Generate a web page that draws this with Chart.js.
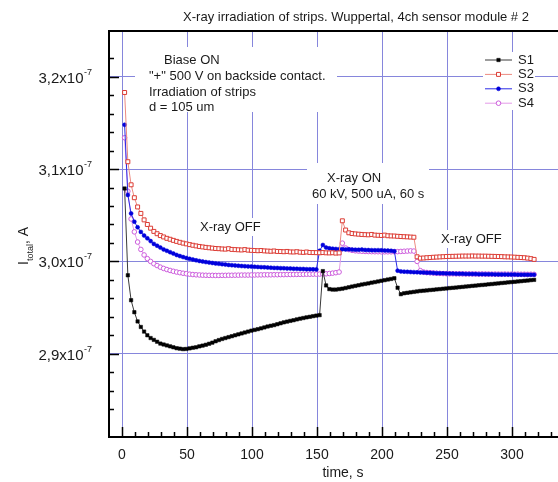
<!DOCTYPE html>
<html>
<head>
<meta charset="utf-8">
<script src="https://cdn.jsdelivr.net/npm/chart.js@4/dist/chart.umd.min.js"></script>
<style>
html,body{margin:0;padding:0;background:#fff;overflow:hidden;}
canvas{display:block;}
</style>
</head>
<body>
<canvas id="grafico" width="600" height="482"></canvas>
<script>
// time of each reading, s
const time=[
 2,4.5,7,9.5,12,14.5,17,19.5,22,24.5,
 27,29.5,32,34.5,37,39.5,42,44.5,47,49.5,
 52,54.5,57,59.5,62,64.5,67,69.5,72,74.5,
 77,79.5,82,84.5,87,89.5,92,94.5,97,99.5,
 102,104.5,107,109.5,112,114.5,117,119.5,122,124.5,
 127,129.5,132,134.5,137,139.5,142,144.5,147,149.5,
 152,154.5,157,159.5,162,164.5,167,169.5,172,174.5,
 177,179.5,182,184.5,187,189.5,192,194.5,197,199.5,
 202,204.5,207,209.5,212,214.5,217,219.5,222,224.5,
 227,229.5,232,234.5,237,239.5,242,244.5,247,249.5,
 252,254.5,257,259.5,262,264.5,267,269.5,272,274.5,
 277,279.5,282,284.5,287,289.5,292,294.5,297,299.5,
 302,304.5,307,309.5,312,314.5,317];

// total current per strip, in units of 1e-7 A
const s1=[
 3.079,2.985,2.958,2.945,2.935,2.929,2.924,2.920,2.917,2.915,
 2.913,2.911,2.910,2.909,2.908,2.907,2.906,2.9055,2.905,2.9052,
 2.9058,2.9065,2.907,2.908,2.9088,2.9097,2.9108,2.912,2.9135,2.9148,
 2.916,2.917,2.918,2.919,2.920,2.921,2.922,2.923,2.924,2.925,
 2.9258,2.9266,2.9275,2.9285,2.9295,2.9303,2.931,2.932,2.933,2.934,
 2.9348,2.9356,2.9363,2.9372,2.938,2.9387,2.9394,2.940,2.9407,2.9413,
 2.9418,2.9895,2.974,2.970,2.9695,2.9695,2.970,2.9705,2.9712,2.972,
 2.9728,2.9735,2.9742,2.975,2.9756,2.9762,2.977,2.9776,2.9783,2.979,
 2.9797,2.9804,2.981,2.9818,2.9715,2.9645,2.9655,2.966,2.9665,2.967,
 2.9675,2.968,2.9683,2.9686,2.969,2.9693,2.9697,2.970,2.9704,2.9707,
 2.9711,2.9714,2.9717,2.9721,2.9724,2.9728,2.9731,2.9735,2.9738,2.9742,
 2.9745,2.9748,2.9752,2.9755,2.9759,2.9762,2.9766,2.9769,2.9773,2.9776,
 2.9779,2.9783,2.9786,2.979,2.9793,2.9797,2.980];

const s2=[
 3.183,3.108,3.083,3.069,3.059,3.052,3.045,3.040,3.036,3.0325,
 3.030,3.028,3.0265,3.025,3.024,3.0228,3.0217,3.0207,3.0198,3.019,
 3.0182,3.0175,3.0168,3.0162,3.0157,3.0152,3.0148,3.0144,3.014,3.0138,
 3.0135,3.0133,3.0138,3.013,3.0128,3.0126,3.0124,3.0128,3.0122,3.012,
 3.0118,3.0116,3.0118,3.0114,3.0112,3.011,3.0113,3.0108,3.0107,3.0105,
 3.0108,3.0103,3.0102,3.0105,3.010,3.0098,3.0102,3.0097,3.0096,3.0095,
 3.0094,3.0096,3.0093,3.0092,3.0094,3.009,3.0092,3.044,3.034,3.031,
 3.0302,3.0298,3.0295,3.0292,3.029,3.0288,3.0292,3.0285,3.0283,3.0281,
 3.0285,3.0278,3.0276,3.0275,3.0272,3.027,3.0268,3.0266,3.0264,3.0262,
 3.005,3.0035,3.0037,3.004,3.0042,3.0045,3.0047,3.0049,3.0051,3.0053,
 3.0054,3.0055,3.0056,3.0057,3.0058,3.0058,3.0058,3.0059,3.0058,3.0058,
 3.0057,3.0057,3.0056,3.0055,3.0054,3.0053,3.0052,3.005,3.0049,3.0048,
 3.0046,3.0044,3.0042,3.004,3.0036,3.003,3.0022];

const s3=[
 3.148,3.072,3.052,3.043,3.037,3.032,3.028,3.025,3.022,3.019,
 3.017,3.015,3.013,3.0115,3.010,3.0085,3.007,3.0058,3.0047,3.0037,
 3.0028,3.002,3.0012,3.0005,2.9999,2.9993,2.9988,2.9983,2.9978,2.9974,
 2.997,2.9966,2.9962,2.9959,2.9956,2.9953,2.995,2.9948,2.9946,2.9944,
 2.9942,2.994,2.9938,2.9936,2.9934,2.9932,2.993,2.9929,2.9927,2.9926,
 2.9924,2.9923,2.9921,2.992,2.9919,2.9918,2.9916,2.9915,2.9914,2.9913,
 3.0115,3.0178,3.015,3.0142,3.0138,3.0135,3.0133,3.0132,3.013,3.0131,
 3.0128,3.0127,3.0126,3.0128,3.0124,3.0123,3.0122,3.0121,3.0122,3.012,
 3.0118,3.0117,3.0115,3.011,2.990,2.9892,2.9889,2.9887,2.9885,2.9884,
 2.9882,2.988,2.9879,2.9877,2.9876,2.9875,2.9873,2.9872,2.9871,2.987,
 2.9869,2.9868,2.9867,2.9866,2.9866,2.9865,2.9864,2.9864,2.9863,2.9862,
 2.9862,2.9861,2.986,2.986,2.9859,2.9859,2.9858,2.9858,2.9857,2.9857,
 2.9857,2.9856,2.9856,2.9856,2.9855,2.9855,2.9855];

const s4=[
 3.134,3.076,3.046,3.032,3.021,3.013,3.007,3.003,3.000,2.9975,
 2.9955,2.9938,2.9924,2.9912,2.9902,2.9893,2.9885,2.9878,2.9872,2.9867,
 2.9862,2.9858,2.9855,2.9853,2.9851,2.985,2.9849,2.9849,2.9848,2.9848,
 2.9849,2.9849,2.985,2.985,2.9851,2.9851,2.9852,2.9852,2.9852,2.9853,
 2.9853,2.9854,2.9854,2.9855,2.9855,2.9855,2.9856,2.9856,2.9857,2.9857,
 2.9858,2.9858,2.9859,2.9859,2.986,2.986,2.9861,2.9861,2.9862,2.9862,
 2.9863,2.9864,2.9866,2.9869,2.9873,2.9878,2.9885,3.0198,3.0145,3.0128,
 3.012,3.0115,3.0112,3.011,3.0108,3.0107,3.0106,3.0105,3.0105,3.0104,
 3.0104,3.0104,3.0104,3.0105,3.0106,3.0108,3.011,3.0112,3.0114,3.0112,
 3.000,2.990,2.9885,2.988,2.9877,2.9874,2.9872,2.987,2.9868,2.9867,
 2.9866,2.9866,2.9865,2.9866,2.9865,2.9864,2.9865,2.9864,2.9864,2.9863,
 2.9864,2.9863,2.9863,2.9862,2.9863,2.9862,2.9862,2.9863,2.9862,2.9862,
 2.9861,2.9862,2.9861,2.9861,2.986,2.9861,2.986];

const names=['S1','S2','S3','S4'];
const yLabelValues=[2.9,3.0,3.1,3.2];
const yExp='-7';
const xLabelValues=[0,50,100,150,200,250,300];

const FONT='"Liberation Sans", Arial, sans-serif';
const INK='#1a1a1a';
const GRID='#8686dc';

// white patches behind the captions: [x1,y1,x2,y2]
const boxes=[[135,47,337,112],[307,163,429,204],[197,218,263,236],[438,230,505,248],[483,52,535,110]];
const notes=[
 ['Biase ON',164,60],
 ['"+" 500 V on backside contact.',149,76],
 ['Irradiation of strips',149,92],
 ['d = 105 um',149,107],
 ['X-ray OFF',200,227],
 ['X-ray ON',327,178],
 ['60 kV, 500 uA, 60 s',312,194],
 ['X-ray OFF',441,239]
];

const pts=v=>v.map((y,i)=>({x:time[i],y}));
const near=(v,step)=>Math.abs(v/step-Math.round(v/step))<1e-6;

function marker(c,d,x,y){
 c.fillStyle=d.pointBackgroundColor;
 c.strokeStyle=d.pointBorderColor;
 c.lineWidth=d.pointBorderWidth;
 c.beginPath();
 if(d.pointStyle==='rect'){
   const s=d.pointRadius*Math.SQRT1_2;
   c.rect(x-s,y-s,2*s,2*s);
 }else{
   c.arc(x,y,d.pointRadius,0,Math.PI*2);
 }
 c.fill();
 if(d.pointBorderWidth) c.stroke();
}

const decor={
 id:'decor',
 beforeDatasetsDraw(chart){
   const c=chart.ctx;
   c.save();
   c.fillStyle='#fff';
   boxes.forEach(b=>c.fillRect(b[0],b[1],b[2]-b[0],b[3]-b[1]));
   c.fillStyle=INK;
   c.font='13px '+FONT;
   c.textAlign='left';
   c.textBaseline='middle';
   notes.forEach(n=>c.fillText(n[0],n[1],n[2]));
   c.restore();
 },
 afterDatasetsDraw(chart){
   const {ctx:c,chartArea:a,scales:{x,y}}=chart;
   c.save();
   // inward tick marks
   c.strokeStyle='#000';
   c.lineWidth=1.5;
   c.beginPath();
   x.ticks.forEach(t=>{
     const v=t.value;
     if(v<=x.min||v>=x.max) return;
     const px=Math.round(x.getPixelForValue(v))+0.5;
     const len=near(v,50)?10:5;
     c.moveTo(px,a.bottom);c.lineTo(px,a.bottom-len);
   });
   y.ticks.forEach(t=>{
     const v=t.value;
     if(v<=y.min+1e-9||v>=y.max-1e-9||!near(v,0.02)) return;
     const py=Math.round(y.getPixelForValue(v))+0.5;
     const len=near(v,0.1)?10:5;
     c.moveTo(a.left,py);c.lineTo(a.left+len,py);
   });
   c.stroke();
   // frame top
   c.lineWidth=2;
   c.beginPath();
   c.moveTo(a.left,a.top);c.lineTo(a.right,a.top);
   c.stroke();

   // legend
   chart.data.datasets.forEach((d,i)=>{
     const ly=60+14.4*i;
     c.strokeStyle=d.borderColor;
     c.lineWidth=1;
     c.beginPath();c.moveTo(485,ly);c.lineTo(512,ly);c.stroke();
     marker(c,d,498.5,ly);
     c.fillStyle=INK;
     c.font='13px '+FONT;
     c.textAlign='left';
     c.textBaseline='middle';
     c.fillText(d.label,518,ly);
   });

   // y tick labels with exponent
   c.fillStyle=INK;
   c.textAlign='right';
   c.textBaseline='alphabetic';
   yLabelValues.forEach(v=>{
     const py=y.getPixelForValue(v);
     c.font='9px '+FONT;
     const sw=c.measureText(yExp).width;
     c.fillText(yExp,92,py-2);
     c.font='15px '+FONT;
     c.fillText(v.toFixed(1).replace('.',',')+'x10',92-sw-0.5,py+6);
   });

   // y axis title: I_total, A
   c.translate(28,246);
   c.rotate(-Math.PI/2);
   c.textAlign='left';
   c.font='14px '+FONT;
   const w1=c.measureText('I').width,w3=c.measureText(', A').width;
   c.font='9px '+FONT;
   const w2=c.measureText('total').width;
   let x0=-(w1+w2+w3)/2;
   c.font='14px '+FONT;c.fillText('I',x0,0);
   c.font='9px '+FONT;c.fillText('total',x0+w1,5);
   c.font='14px '+FONT;c.fillText(', A',x0+w1+w2,0);
   c.restore();

   c.save();
   c.fillStyle=INK;
   c.font='13px '+FONT;
   c.textAlign='center';
   c.textBaseline='middle';
   c.fillText('X-ray irradiation of strips. Wuppertal, 4ch sensor module # 2',356,17);
   c.restore();
 }
};

const datasets=[
 {label:names[0],data:pts(s1),borderColor:'#3a3a3a',borderWidth:1,pointStyle:'rect',pointRadius:2.4,pointBackgroundColor:'#000',pointBorderColor:'#000',pointBorderWidth:0.5},
 {label:names[1],data:pts(s2),borderColor:'#ec8a80',borderWidth:1,pointStyle:'rect',pointRadius:2.8,pointBackgroundColor:'#fff',pointBorderColor:'#dc3c34',pointBorderWidth:1},
 {label:names[2],data:pts(s3),borderColor:'#2a2ae6',borderWidth:1,pointStyle:'circle',pointRadius:2,pointBackgroundColor:'#0000dc',pointBorderColor:'#0000dc',pointBorderWidth:0.5},
 {label:names[3],data:pts(s4),borderColor:'#e49ae8',borderWidth:1,pointStyle:'circle',pointRadius:2.3,pointBackgroundColor:'#fff',pointBorderColor:'#cc5cdc',pointBorderWidth:1}
];

new Chart(document.getElementById('grafico'),{
 type:'line',
 data:{datasets},
 options:{
   responsive:false,
   animation:false,
   events:[],
   layout:{padding:{left:0,top:31,right:23,bottom:0}},
   elements:{line:{tension:0}},
   plugins:{legend:{display:false},tooltip:{enabled:false},title:{display:false}},
   scales:{
     x:{
       type:'linear',min:-10,max:350,
       afterFit:s=>{s.height=45;},
       border:{display:true,color:'#000',width:2},
       grid:{color:c=>(c.tick&&c.tick.value>=0&&near(c.tick.value,50))?GRID:'transparent',drawTicks:false,lineWidth:1},
       ticks:{stepSize:10,autoSkip:false,maxRotation:0,padding:10,color:INK,font:{family:FONT,size:14},
         callback:v=>xLabelValues.includes(v)?String(v):''},
       title:{display:true,text:'time, s',color:INK,font:{family:FONT,size:14},padding:{top:0,bottom:0}}
     },
     y:{
       // limits kept off the 0.02 grid so the ticks fall on round values
       type:'linear',min:2.8098,max:3.2496,
       afterFit:s=>{s.width=109;},
       border:{display:true,color:'#000',width:2},
       grid:{color:c=>(c.tick&&near(c.tick.value,0.1))?GRID:'transparent',drawTicks:false,lineWidth:1},
       ticks:{stepSize:0.02,display:false}
     }
   }
 },
 plugins:[decor]
});
</script>
</body>
</html>
